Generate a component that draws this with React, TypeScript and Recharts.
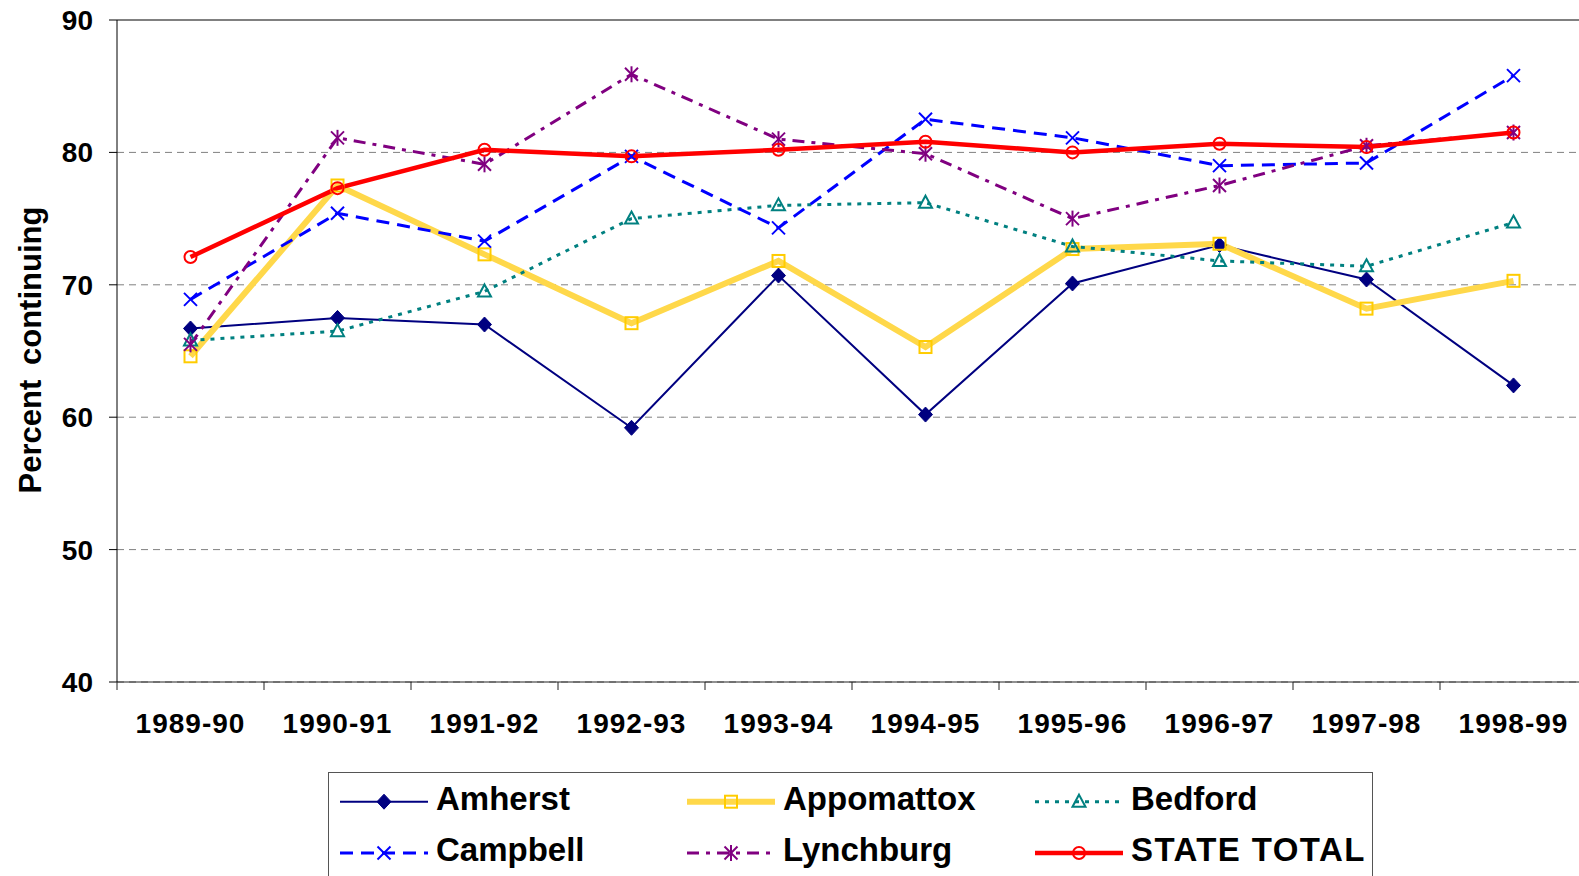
import { LineChart, Line, XAxis, YAxis, CartesianGrid, ReferenceLine, Label } from 'recharts';

const categories = ['1989-90', '1990-91', '1991-92', '1992-93', '1993-94', '1994-95', '1995-96', '1996-97', '1997-98', '1998-99'];
const amherst = [66.7, 67.5, 67.0, 59.2, 70.7, 60.2, 70.1, 73.0, 70.4, 62.4];
const appomattox = [64.6, 77.5, 72.3, 67.1, 71.8, 65.3, 72.7, 73.1, 68.2, 70.3];
const bedford = [65.8, 66.5, 69.5, 75.0, 76.0, 76.2, 72.9, 71.8, 71.4, 74.7];
const campbell = [68.9, 75.4, 73.3, 79.7, 74.3, 82.5, 81.1, 79.0, 79.2, 85.8];
const lynchburg = [65.5, 81.1, 79.1, 85.9, 81.0, 79.9, 75.0, 77.5, 80.5, 81.5];
const stateTotal = [72.1, 77.3, 80.2, 79.7, 80.2, 80.8, 80.0, 80.65, 80.4, 81.5];
const yTicks = [40, 50, 60, 70, 80, 90];

const FONT = '"Liberation Sans", Arial, sans-serif';
const PLOT_W = 1470;

const data = categories.map((name, i) => ({
  name,
  amherst: amherst[i],
  appomattox: appomattox[i],
  bedford: bedford[i],
  campbell: campbell[i],
  lynchburg: lynchburg[i],
  stateTotal: stateTotal[i],
}));

// marker shapes, drawn around (cx, cy)
const marker = (shape: string, cx: number, cy: number, key?: any) => {
  switch (shape) {
    case 'diamond':
      return <path key={key} d={`M${cx},${cy - 7.5}L${cx + 7},${cy}L${cx},${cy + 7.5}L${cx - 7},${cy}Z`} fill="#000080" stroke="#000080" />;
    case 'square':
      return <rect key={key} x={cx - 6} y={cy - 6} width={12} height={12} fill="none" stroke="#FFCC00" strokeWidth={2} />;
    case 'triangle':
      return <path key={key} d={`M${cx},${cy - 7}L${cx + 6.5},${cy + 5}L${cx - 6.5},${cy + 5}Z`} fill="none" stroke="#008080" strokeWidth={2} />;
    case 'x':
      return (
        <g key={key} stroke="#0000FF" strokeWidth={2}>
          <line x1={cx - 6.5} y1={cy - 6.5} x2={cx + 6.5} y2={cy + 6.5} />
          <line x1={cx - 6.5} y1={cy + 6.5} x2={cx + 6.5} y2={cy - 6.5} />
        </g>
      );
    case 'asterisk':
      return (
        <g key={key} stroke="#800080" strokeWidth={2}>
          <line x1={cx - 6.5} y1={cy - 6.5} x2={cx + 6.5} y2={cy + 6.5} />
          <line x1={cx - 6.5} y1={cy + 6.5} x2={cx + 6.5} y2={cy - 6.5} />
          <line x1={cx} y1={cy - 8} x2={cx} y2={cy + 8} />
        </g>
      );
    default:
      return <circle key={key} cx={cx} cy={cy} r={6} fill="none" stroke="#FF0000" strokeWidth={2} />;
  }
};

const series = [
  { key: 'amherst', name: 'Amherst', color: '#000080', width: 2, dash: undefined, shape: 'diamond', ls: 0 },
  { key: 'appomattox', name: 'Appomattox', color: '#FFD84A', width: 6, dash: undefined, shape: 'square', ls: 0 },
  { key: 'bedford', name: 'Bedford', color: '#008080', width: 3, dash: '4 6', shape: 'triangle', ls: 0 },
  { key: 'campbell', name: 'Campbell', color: '#0000FF', width: 3, dash: '13 8', shape: 'x', ls: 0 },
  { key: 'lynchburg', name: 'Lynchburg', color: '#800080', width: 3, dash: '12 7 4 7', shape: 'asterisk', ls: 0 },
  { key: 'stateTotal', name: 'STATE TOTAL', color: '#FF0000', width: 4.5, dash: undefined, shape: 'circle', ls: 1.4 },
];

const XTick = (props: any) => {
  const { x, y, payload, index } = props;
  const bw = PLOT_W / categories.length;
  return (
    <g>
      <line x1={x - bw / 2} y1={y} x2={x - bw / 2} y2={y + 8} stroke="#222" />
      {index === categories.length - 1 && <line x1={x + bw / 2} y1={y} x2={x + bw / 2} y2={y + 8} stroke="#222" />}
      <text x={x} y={y + 31} dy="0.71em" textAnchor="middle" fontFamily={FONT} fontWeight="bold" fontSize={28} letterSpacing={1} fill="#000">
        {payload.value}
      </text>
    </g>
  );
};

const Legend2 = () => {
  const cols = [12, 359, 707];
  const rows = [29.7, 81];
  return (
    <div
      style={{
        position: 'absolute', left: 328, top: 772, width: 1045, height: 120,
        border: '1px solid #555', boxSizing: 'border-box', background: '#fff',
      }}
    >
      <svg width={1045} height={120} style={{ position: 'absolute', left: -1, top: -1 }}>
        {series.map((s, i) => {
          const x0 = cols[i % 3];
          const y = rows[Math.floor(i / 3)];
          return (
            <g key={s.key}>
              <line x1={x0} y1={y} x2={x0 + 88} y2={y} stroke={s.color} strokeWidth={s.width >= 4 ? s.width : Math.min(s.width, 3)} strokeDasharray={s.dash} />
              {marker(s.shape, x0 + 44, y)}
              <text x={x0 + 96} y={y + 8} fontFamily={FONT} fontWeight="bold" fontSize={33} letterSpacing={s.ls} fill="#000">
                {s.name}
              </text>
            </g>
          );
        })}
      </svg>
    </div>
  );
};

export default function App() {
  return (
    <div style={{ position: 'absolute', left: 0, top: 0, width: 1579, height: 876, overflow: 'hidden', background: '#fff' }}>
      <LineChart width={1600} height={876} data={data} margin={{ top: 20, right: 13, bottom: 134, left: 0 }}>
        <CartesianGrid vertical={false} stroke="#808080" strokeDasharray="7 5" />
        <XAxis
          dataKey="name"
          scale="band"
          height={60}
          tickSize={0}
          tickMargin={0}
          tickLine={false}
          axisLine={{ stroke: '#222' }}
          tick={<XTick />}
          interval={0}
        />
        <YAxis
          width={117}
          domain={[40, 90]}
          ticks={yTicks}
          tickSize={8}
          tickMargin={16}
          axisLine={{ stroke: '#000' }}
          tickLine={{ stroke: '#000' }}
          tick={{ fontFamily: FONT, fontWeight: 'bold', fontSize: 28, fill: '#000' }}
        >
          <Label
            content={() => (
              <text
                x={30}
                y={350}
                transform="rotate(-90 30 350)"
                textAnchor="middle"
                dominantBaseline="central"
                fontFamily={FONT}
                fontWeight="bold"
                fontSize={31}
                wordSpacing={6}
                fill="#000"
              >
                Percent continuing
              </text>
            )}
          />
        </YAxis>
        <ReferenceLine y={90} stroke="#808080" strokeWidth={2} />
        {series.map((s) => (
          <Line
            key={s.key}
            dataKey={s.key}
            name={s.name}
            stroke={s.color}
            strokeWidth={s.width}
            strokeDasharray={s.dash}
            isAnimationActive={false}
            dot={(p: any) => marker(s.shape, p.cx, p.cy, `${s.key}-${p.index}`)}
            activeDot={false}
          />
        ))}
      </LineChart>
      <Legend2 />
    </div>
  );
}
